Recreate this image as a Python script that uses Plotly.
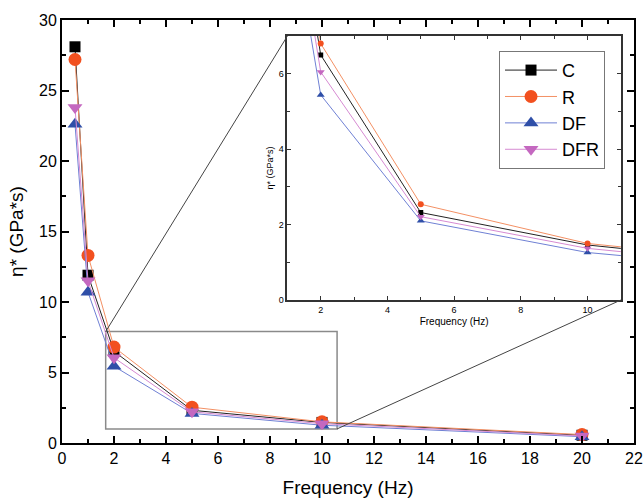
import plotly.graph_objects as go

# Frequency sweep (Hz) and complex viscosity (GPa*s) for each compound
freq = [0.5, 1, 2, 5, 10, 20]
eta_C = [28.1, 11.9, 6.5, 2.32, 1.46, 0.55]
eta_R = [27.2, 13.3, 6.8, 2.54, 1.50, 0.60]
eta_DF = [22.6, 10.7, 5.44, 2.10, 1.26, 0.45]
eta_DFR = [23.8, 11.5, 6.05, 2.21, 1.37, 0.50]

series_names = ["C", "R", "DF", "DFR"]
series_values = [eta_C, eta_R, eta_DF, eta_DFR]
marker_colors = ["#000000", "#f2501f", "#2f4fa8", "#c468c0"]
line_colors = ["#222222", "#f39064", "#6f80d4", "#d68ad2"]
symbols = ["square", "circle", "triangle-up", "triangle-down"]
main_sizes = [11, 13, 13, 13]
inset_sizes = [5, 6, 7, 7]

# Axis ranges
main_x_range = [0, 22]
main_y_range = [0, 30]
inset_x_range = [1, 11]
inset_y_range = [0, 7]

# Zoomed region marked on the main axes
zoom_x = [1.68, 10.58]
zoom_y = [1.0, 7.9]

# Inset placement (paper fractions)
inset_dom_x = [0.394, 0.977]
inset_dom_y = [0.338, 0.962]

FONT = "Liberation Sans, Arial, sans-serif"

fig = go.Figure()

# Main axes: these traces also feed the legend
for name, vals, mc, lc, sym, ms in zip(series_names, series_values, marker_colors,
                                         line_colors, symbols, main_sizes):
    fig.add_trace(go.Scatter(
        x=freq, y=vals, name=name, mode="lines+markers",
        line=dict(color=lc, width=1),
        marker=dict(symbol=sym, size=ms, color=mc),
        xaxis="x", yaxis="y", showlegend=True,
    ))

# Inset: same data, zoomed in
for name, vals, mc, lc, sym, ms in zip(series_names, series_values, marker_colors,
                                         line_colors, symbols, inset_sizes):
    fig.add_trace(go.Scatter(
        x=freq, y=vals, name=name, mode="lines+markers",
        line=dict(color=lc, width=1),
        marker=dict(symbol=sym, size=ms, color=mc),
        xaxis="x2", yaxis="y2", showlegend=False, cliponaxis=True,
    ))

# Rectangle around the zoomed region and connectors to the inset corners
x_span = main_x_range[1] - main_x_range[0]
y_span = main_y_range[1] - main_y_range[0]
fig.add_shape(type="rect", xref="x", yref="y",
              x0=zoom_x[0], x1=zoom_x[1], y0=zoom_y[0], y1=zoom_y[1],
              line=dict(color="#8a8a8a", width=1.5), layer="below")
fig.add_shape(type="line", xref="paper", yref="paper",
              x0=zoom_x[0] / x_span, y0=zoom_y[1] / y_span,
              x1=inset_dom_x[0], y1=inset_dom_y[1],
              line=dict(color="#444444", width=1))
fig.add_shape(type="line", xref="paper", yref="paper",
              x0=zoom_x[1] / x_span, y0=zoom_y[0] / y_span,
              x1=inset_dom_x[1], y1=inset_dom_y[0],
              line=dict(color="#444444", width=1))

main_axis = dict(showgrid=False, zeroline=False, showline=True, linecolor="black",
                 linewidth=2, mirror="ticks", ticks="inside", ticklen=7, tickwidth=1.5,
                 tickcolor="black", tickfont=dict(family=FONT, size=16, color="black"),
                 automargin=False)
inset_axis = dict(showgrid=False, zeroline=False, showline=True, linecolor="#333333",
                  linewidth=1.5, mirror="ticks", ticks="inside", ticklen=4, tickwidth=1,
                  tickcolor="#333333", tickfont=dict(family=FONT, size=9, color="black"),
                  automargin=False)

fig.update_layout(
    width=644, height=503,
    margin=dict(l=62, r=10, t=20, b=60),
    paper_bgcolor="white", plot_bgcolor="white",
    font=dict(family=FONT, color="black"),
    xaxis=dict(main_axis, range=main_x_range, dtick=2, tick0=0,
               minor=dict(ticks="inside", dtick=1, ticklen=4, tickcolor="black", tickwidth=1.5),
               title=dict(text="Frequency (Hz)", font=dict(size=19), standoff=14),
               domain=[0, 1]),
    yaxis=dict(main_axis, range=main_y_range, dtick=5, tick0=0,
               minor=dict(ticks="inside", dtick=2.5, ticklen=4, tickcolor="black", tickwidth=1.5),
               title=dict(text="η* (GPa*s)", font=dict(size=19), standoff=10),
               domain=[0, 1]),
    xaxis2=dict(inset_axis, range=inset_x_range, dtick=2, tick0=0, anchor="y2",
                minor=dict(ticks="inside", dtick=1, ticklen=3, tickcolor="#333333"),
                title=dict(text="Frequency (Hz)", font=dict(size=10), standoff=4),
                domain=inset_dom_x),
    yaxis2=dict(inset_axis, range=inset_y_range, dtick=2, tick0=0, anchor="x2",
                minor=dict(ticks="inside", dtick=1, ticklen=3, tickcolor="#333333"),
                title=dict(text="η* (GPa*s)", font=dict(size=9), standoff=4),
                domain=inset_dom_y),
    legend=dict(x=0.764, y=0.927, xanchor="left", yanchor="top",
                bgcolor="white", bordercolor="#777777", borderwidth=1,
                font=dict(family=FONT, size=18, color="black"),
                tracegroupgap=0, itemwidth=52, itemsizing="trace"),
)

fig.write_html("out.html")
